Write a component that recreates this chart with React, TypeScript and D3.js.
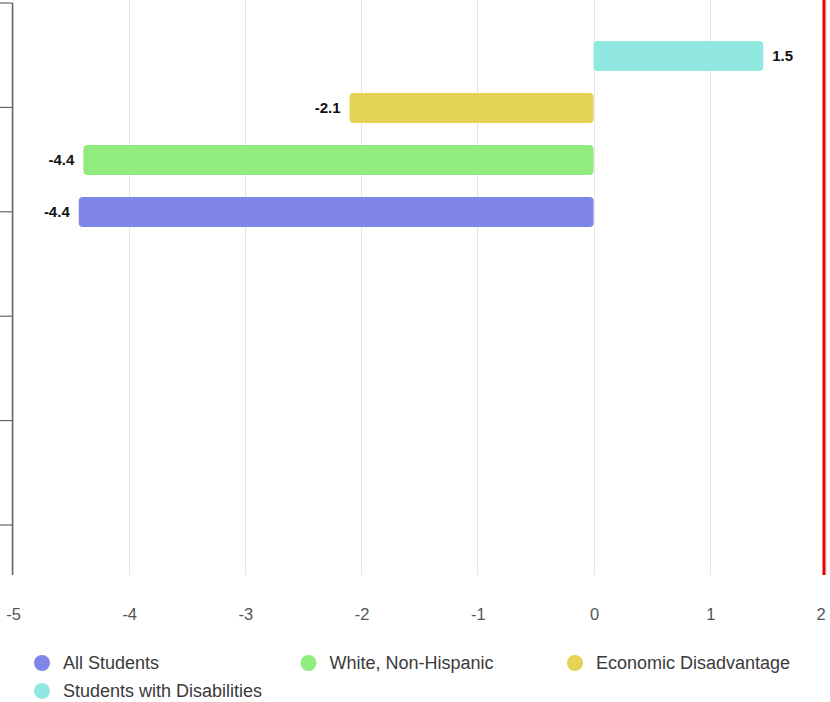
import React from "react";
import * as d3 from "d3";

const seriesNames = ["All Students", "White, Non-Hispanic", "Economic Disadvantage", "Students with Disabilities"];
const seriesValues = [-4.43, -4.39, -2.1, 1.46];
const seriesColors = ["#8085e9", "#90ed7d", "#e4d354", "#91e8e1"];
const barOrder = ["Students with Disabilities", "Economic Disadvantage", "White, Non-Hispanic", "All Students"];
const xTickValues = [-5, -4, -3, -2, -1, 0, 1, 2];
const categoryTicks = [0, 1, 2, 3, 4, 5];
const targetValue = 2;

const W = 830;
const H = 702;
const FONT = "'Liberation Sans', Arial, sans-serif";

export default function App() {
  const x = d3.scaleLinear().domain([-5, 2]).range([12.5, 826]);
  const plotTop = 3;
  const plotBottom = 575;
  const yBar = d3
    .scaleBand<string>()
    .domain(barOrder)
    .range([30, 238])
    .paddingInner(0.423)
    .paddingOuter(0.2115);
  const yCat = d3.scaleLinear().domain([0, 5.5]).range([plotTop, plotTop + 5.5 * 104.4]);

  const fmt = (v: number) => v.toFixed(1);

  return (
    <svg
      width={W}
      height={H}
      style={{ position: "absolute", left: 0, top: 0, background: "#fff" }}
      fontFamily={FONT}
    >
      {/* gridlines */}
      {xTickValues.map((t) => (
        <line
          key={"g" + t}
          x1={Math.round(x(t)) + 0.5}
          x2={Math.round(x(t)) + 0.5}
          y1={0}
          y2={plotBottom}
          stroke="#e6e6e6"
          strokeWidth={1}
        />
      ))}
      {/* bars */}
      {seriesNames.map((name, i) => {
        const v = seriesValues[i];
        const x0 = x(Math.min(0, v));
        const x1 = x(Math.max(0, v));
        const y = yBar(name)!;
        const bw = yBar.bandwidth();
        return (
          <g key={name}>
            <rect x={x0} y={y} width={x1 - x0} height={bw} rx={4} ry={4} fill={seriesColors[i]} />
            <text
              x={v >= 0 ? x1 + 9 : x0 - 9}
              y={y + bw / 2 + 5}
              textAnchor={v >= 0 ? "start" : "end"}
              fontSize={15}
              fontWeight="bold"
              fill="#111"
            >
              {fmt(v)}
            </text>
          </g>
        );
      })}
      {/* target line */}
      <line x1={x(targetValue) - 2} x2={x(targetValue) - 2} y1={0} y2={plotBottom} stroke="#e30000" strokeWidth={3} />
      {/* category axis */}
      <line x1={12.5} x2={12.5} y1={plotTop} y2={plotBottom} stroke="#666" strokeWidth={1.5} />
      {categoryTicks.map((t) => (
        <line key={"c" + t} x1={0} x2={12.5} y1={yCat(t)} y2={yCat(t)} stroke="#666" strokeWidth={1.2} />
      ))}
      {/* x tick labels */}
      {xTickValues.map((t) => (
        <text
          key={"l" + t}
          x={Math.min(Math.max(x(t) + 1, 13), 821)}
          y={620}
          textAnchor="middle"
          fontSize={16.5}
          fill="#555"
        >
          {t}
        </text>
      ))}
      {/* legend */}
      {seriesNames.map((name, i) => {
        const col = i % 3;
        const row = Math.floor(i / 3);
        const cx = 42 + col * 266.5;
        const cy = 663 + row * 28;
        return (
          <g key={"lg" + name}>
            <circle cx={cx} cy={cy} r={8} fill={seriesColors[i]} />
            <text x={cx + 21} y={cy + 6} fontSize={18} fill="#3a3a3a">
              {name}
            </text>
          </g>
        );
      })}
    </svg>
  );
}
